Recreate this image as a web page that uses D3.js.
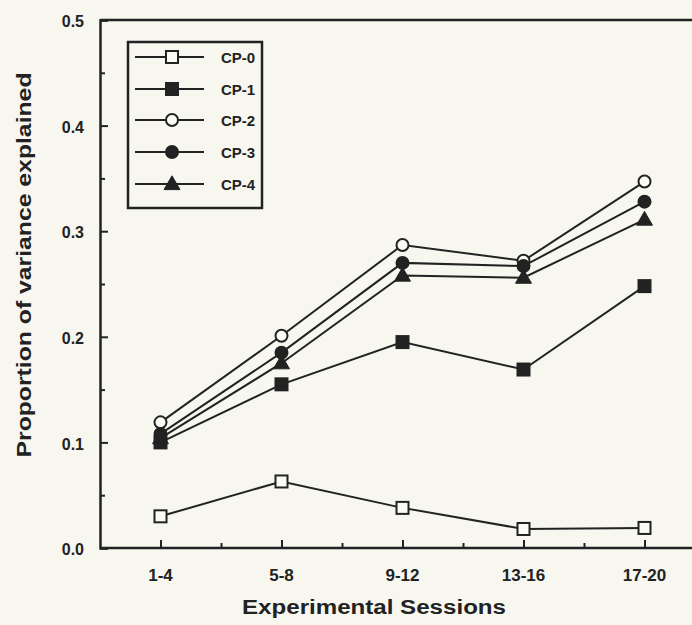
<!DOCTYPE html>
<html><head><meta charset="utf-8">
<script src="https://cdn.jsdelivr.net/npm/d3@7"></script>
<style>
body{margin:0;background:#f7f7f0;}
svg{display:block;}
text{font-family:"Liberation Sans",Arial,sans-serif;font-weight:bold;fill:#222;}
</style></head>
<body><svg id="c" width="692" height="625"></svg>
<script>
const categories = ["1-4","5-8","9-12","13-16","17-20"];
const cp0 = [0.030, 0.063, 0.038, 0.018, 0.019];
const cp1 = [0.100, 0.155, 0.195, 0.169, 0.248];
const cp2 = [0.119, 0.201, 0.287, 0.272, 0.347];
const cp3 = [0.108, 0.185, 0.270, 0.267, 0.328];
const cp4 = [0.104, 0.175, 0.258, 0.256, 0.311];
const seriesNames = ["CP-0","CP-1","CP-2","CP-3","CP-4"];
const yTicks = [0.0, 0.1, 0.2, 0.3, 0.4, 0.5];
const yMinor = [0.05, 0.15, 0.25, 0.35, 0.45];

const series = [
  {name: seriesNames[0], values: cp0, shape: "square", fill: false},
  {name: seriesNames[1], values: cp1, shape: "square", fill: true},
  {name: seriesNames[2], values: cp2, shape: "circle", fill: false},
  {name: seriesNames[3], values: cp3, shape: "circle", fill: true},
  {name: seriesNames[4], values: cp4, shape: "triangle", fill: true}
];

const ink = "#222";
const svg = d3.select("#c");
const x = d3.scaleLinear().domain([-0.5, 4.5]).range([100, 705]);
const y = d3.scaleLinear().domain([0, 0.5]).range([548, 20]);

// frame
svg.append("line").attr("x1", x(-0.5)).attr("x2", 692).attr("y1", y(0.5)).attr("y2", y(0.5)).attr("stroke", ink).attr("stroke-width", 2.5);

// y axis
const yAxis = svg.append("g").attr("transform", `translate(${x(-0.5)},0)`)
  .call(d3.axisRight(y).tickValues(yTicks).tickFormat(d3.format(".1f")).tickSize(8).tickPadding(0));
yAxis.select(".domain").attr("stroke", ink).attr("stroke-width", 2.5);
yAxis.selectAll(".tick line").attr("stroke", ink).attr("stroke-width", 2);
yAxis.selectAll(".tick text").attr("text-anchor", "end").attr("x", -16).attr("dy", "0.42em")
  .style("font-size", "16px").attr("font-family", null).attr("fill", ink);
svg.append("g").attr("transform", `translate(${x(-0.5)},0)`)
  .call(d3.axisRight(y).tickValues(yMinor).tickFormat("").tickSize(5))
  .call(g => { g.select(".domain").remove(); g.selectAll(".tick line").attr("stroke", ink).attr("stroke-width", 2); });

// x axis
const xAxis = svg.append("g").attr("transform", `translate(0,${y(0)})`)
  .call(d3.axisTop(x).tickValues(d3.range(categories.length)).tickFormat("").tickSize(8));
xAxis.select(".domain").remove();
xAxis.selectAll(".tick line").attr("stroke", ink).attr("stroke-width", 2);
svg.append("g").attr("transform", `translate(0,${y(0)})`)
  .call(d3.axisTop(x).tickValues(d3.range(categories.length).map(i => i + 0.5)).tickFormat("").tickSize(5))
  .call(g => { g.select(".domain").remove(); g.selectAll(".tick line").attr("stroke", ink).attr("stroke-width", 2); });
svg.append("line").attr("x1", x(-0.5)).attr("x2", 692).attr("y1", y(0)).attr("y2", y(0)).attr("stroke", ink).attr("stroke-width", 2.5);
svg.append("g").selectAll("text").data(categories).join("text")
  .attr("x", (d, i) => x(i)).attr("y", y(0) + 33).attr("text-anchor", "middle").style("font-size", "17px").text(d => d);

// titles
svg.append("text").attr("x", 374).attr("y", 614).attr("text-anchor", "middle").style("font-size", "20px")
  .attr("textLength", 264).attr("lengthAdjust", "spacingAndGlyphs").text("Experimental Sessions");
svg.append("text").attr("transform", "translate(31,265) rotate(-90)").attr("text-anchor", "middle").style("font-size", "20px")
  .attr("textLength", 385).attr("lengthAdjust", "spacingAndGlyphs").text("Proportion of variance explained");

function marker(g, s, cx, cy) {
  const sw = 2;
  if (s.shape === "square") {
    g.append("rect").attr("x", cx - 6).attr("y", cy - 6).attr("width", 12).attr("height", 12)
      .attr("fill", s.fill ? ink : "#fbfbf6").attr("stroke", ink).attr("stroke-width", sw);
  } else if (s.shape === "circle") {
    g.append("circle").attr("cx", cx).attr("cy", cy).attr("r", 6)
      .attr("fill", s.fill ? ink : "#fbfbf6").attr("stroke", ink).attr("stroke-width", sw);
  } else {
    g.append("path").attr("d", d3.symbol(d3.symbolTriangle, 110)()).attr("transform", `translate(${cx},${cy + 1})`)
      .attr("fill", ink).attr("stroke", ink).attr("stroke-width", 1);
  }
}

const line = d3.line().x((d, i) => x(i)).y(d => y(d));
const plot = svg.append("g");
series.forEach(s => {
  plot.append("path").attr("d", line(s.values)).attr("fill", "none").attr("stroke", ink).attr("stroke-width", 2);
});
series.forEach(s => {
  const g = plot.append("g");
  s.values.forEach((v, i) => marker(g, s, x(i), y(v)));
});

// legend
const lg = svg.append("g");
lg.append("rect").attr("x", 128).attr("y", 42).attr("width", 134).attr("height", 166)
  .attr("fill", "none").attr("stroke", ink).attr("stroke-width", 2.5);
const rowY = [57, 89, 120, 152, 184];
series.forEach((s, i) => {
  const g = lg.append("g");
  g.append("line").attr("x1", 135).attr("x2", 204).attr("y1", rowY[i]).attr("y2", rowY[i]).attr("stroke", ink).attr("stroke-width", 2);
  marker(g, s, 172, rowY[i]);
  g.append("text").attr("x", 221).attr("y", rowY[i] + 5.5).style("font-size", "15px").text(s.name);
});
</script></body></html>
